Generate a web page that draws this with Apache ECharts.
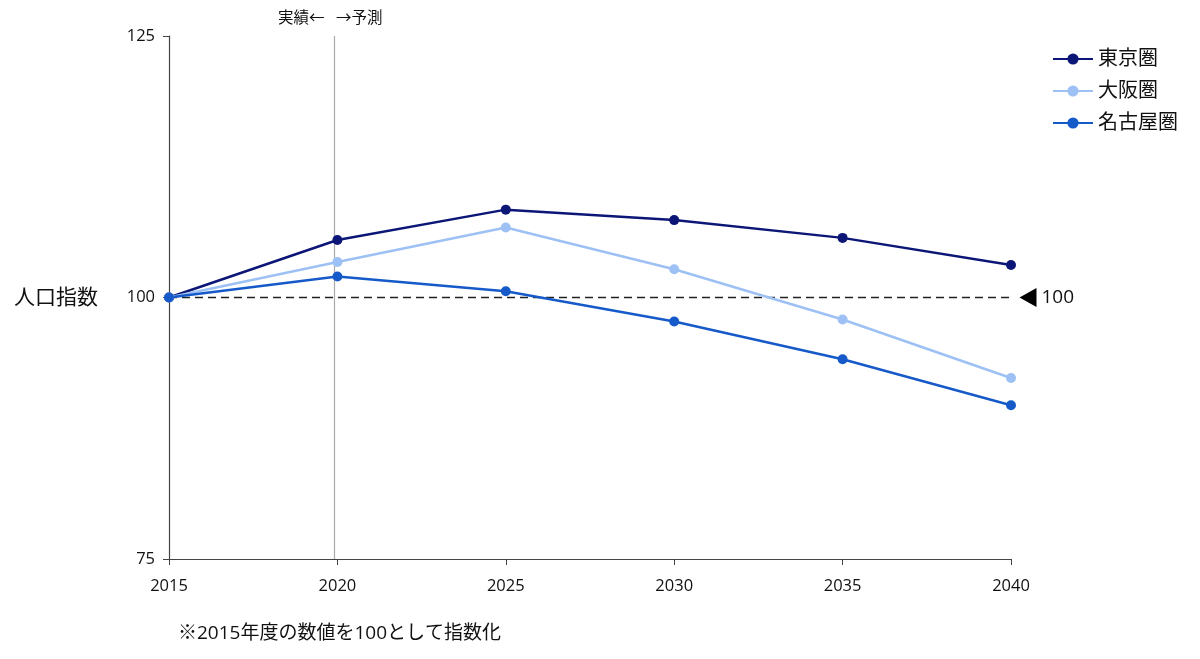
<!DOCTYPE html>
<html><head><meta charset="utf-8">
<script src="https://cdn.jsdelivr.net/npm/echarts@6/dist/echarts.min.js"></script>
<style>html,body{margin:0;padding:0;background:#fff}#c{width:1200px;height:659px}</style>
</head><body><div id="c"></div>
<script>
const years = [2015, 2020, 2025, 2030, 2035, 2040];
const tokyo = [100, 105.5, 108.4, 107.4, 105.7, 103.1];
const osaka = [100, 103.4, 106.7, 102.7, 97.9, 92.3];
const nagoya = [100, 102.0, 100.6, 97.7, 94.1, 89.7];
const seriesNames = ['東京圏', '大阪圏', '名古屋圏'];
const colors = ['#0c1677', '#9dc1f4', '#165ac9'];
const yTicks = [75, 100, 125];
const FONT = '"Open Sans", "Noto Sans CJK JP", sans-serif';

const chart = echarts.init(document.getElementById('c'));
const mk = (name, vals, color, extra) => Object.assign({
  name, type: 'line', data: years.map((y, i) => [y, vals[i]]),
  symbol: 'circle', symbolSize: 10, color,
  lineStyle: { width: 2.5, color }, itemStyle: { color },
  z: 3
}, extra || {});

chart.setOption({
  animation: false,
  textStyle: { fontFamily: FONT },
  grid: { left: 169, right: 189, top: 36, bottom: 100 },
  legend: {
    left: 1047, top: 44, orient: 'vertical', itemGap: 12,
    itemWidth: 40, itemHeight: 14,
    textStyle: { fontSize: 20, color: '#111', fontFamily: FONT },
    data: seriesNames
  },
  xAxis: {
    type: 'value', min: 2015, max: 2040, interval: 5,
    axisLine: { lineStyle: { color: '#444', width: 1.2 } },
    axisTick: { show: true, length: 6, lineStyle: { color: '#444' } },
    axisLabel: { fontSize: 16.5, color: '#111', margin: 19, formatter: v => String(v) },
    splitLine: { show: false }
  },
  yAxis: {
    type: 'value', min: 75, max: 125, interval: 25,
    axisLine: { show: true, lineStyle: { color: '#444', width: 1.2 } },
    axisTick: { show: true, length: 6, lineStyle: { color: '#444' } },
    axisLabel: { fontSize: 16.5, color: '#111', margin: 14, formatter: v => yTicks.includes(v) ? String(v) : '' },
    splitLine: { show: false }
  },
  series: [
    mk(seriesNames[0], tokyo, colors[0], {
      markLine: {
        silent: true, symbol: 'none', z: 1,
        label: { show: false },
        data: [
          [{ coord: [2015, 100], lineStyle: { type: [8, 5], color: '#222', width: 1.3 } }, { coord: [2040, 100] }],
          [{ coord: [2019.9, 75], lineStyle: { type: 'solid', color: '#aaa', width: 1.2 } }, { coord: [2019.9, 125] }]
        ]
      },
      markPoint: {
        silent: true,
        data: [{
          coord: [2040, 100], symbol: 'triangle', symbolSize: [19, 17], symbolRotate: 90,
          symbolOffset: [17, 0], itemStyle: { color: '#000' },
          label: { show: true, formatter: '100', position: 'right', distance: 5, color: '#111', fontSize: 19, fontFamily: FONT }
        }]
      }
    }),
    mk(seriesNames[1], osaka, colors[1]),
    mk(seriesNames[2], nagoya, colors[2])
  ],
  graphic: [
    { type: 'text', left: 14, top: 288, style: { text: '人口指数', fontSize: 21, fill: '#111', fontFamily: FONT } },
    { type: 'text', left: 278, top: 11, style: { text: '実績←', fontSize: 15.5, fill: '#111', fontFamily: FONT } },
    { type: 'text', left: 336, top: 11, style: { text: '→予測', fontSize: 15.5, fill: '#111', fontFamily: FONT } },
    { type: 'text', left: 178, top: 624, style: { text: '※2015年度の数値を100として指数化', fontSize: 19, fill: '#111', fontFamily: FONT } }
  ]
});
</script></body></html>
